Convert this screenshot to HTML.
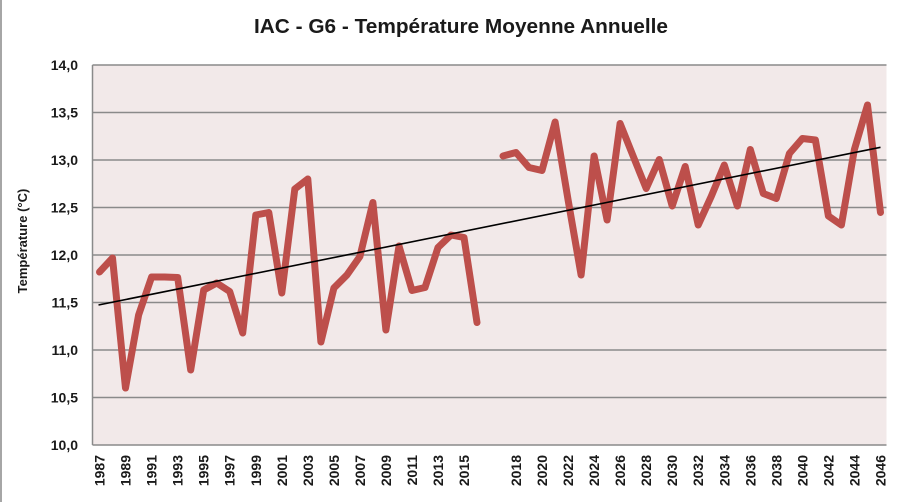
<!DOCTYPE html>
<html>
<head>
<meta charset="utf-8">
<style>
  html, body { margin:0; padding:0; background:#ffffff; }
  svg { display:block; }
  text { font-family: "Liberation Sans", "DejaVu Sans", sans-serif; font-weight: bold; fill:#1a1a1a; }
</style>
</head>
<body>
<svg width="920" height="502" viewBox="0 0 920 502" xmlns="http://www.w3.org/2000/svg">
  <rect x="0" y="0" width="920" height="502" fill="#ffffff"/>
  <line x1="1" y1="0" x2="1" y2="502" stroke="#a6a6a6" stroke-width="2"/>

  <!-- Title -->
  <text x="461" y="33" font-size="20" text-anchor="middle" textLength="414" lengthAdjust="spacingAndGlyphs">IAC - G6 - Température Moyenne Annuelle</text>

  <!-- Plot area -->
  <rect x="92.5" y="65" width="794" height="380" fill="#f2e9e9"/>
  <g stroke="#8a8a8a" stroke-width="1.5">
    <line x1="92.5" y1="65" x2="886.5" y2="65"/>
    <line x1="92.5" y1="112.5" x2="886.5" y2="112.5"/>
    <line x1="92.5" y1="160" x2="886.5" y2="160"/>
    <line x1="92.5" y1="207.5" x2="886.5" y2="207.5"/>
    <line x1="92.5" y1="255" x2="886.5" y2="255"/>
    <line x1="92.5" y1="302.5" x2="886.5" y2="302.5"/>
    <line x1="92.5" y1="350" x2="886.5" y2="350"/>
    <line x1="92.5" y1="397.5" x2="886.5" y2="397.5"/>
    <line x1="92.5" y1="445" x2="886.5" y2="445"/>
    <line x1="92.5" y1="65" x2="92.5" y2="445"/>
  </g>

  <!-- Y tick labels -->
  <g font-size="14" text-anchor="end">
    <text x="78" y="70">14,0</text>
    <text x="78" y="117.5">13,5</text>
    <text x="78" y="165">13,0</text>
    <text x="78" y="212.5">12,5</text>
    <text x="78" y="260">12,0</text>
    <text x="78" y="307.5">11,5</text>
    <text x="78" y="355">11,0</text>
    <text x="78" y="402.5">10,5</text>
    <text x="78" y="450">10,0</text>
  </g>

  <!-- Y axis title -->
  <text font-size="13" text-anchor="middle" transform="translate(27,241) rotate(-90)">Température (°C)</text>

  <!-- X tick labels -->
  <g font-size="14" text-anchor="end">
    <text transform="translate(104.5,455) rotate(-90)">1987</text>
    <text transform="translate(130.5,455) rotate(-90)">1989</text>
    <text transform="translate(156.6,455) rotate(-90)">1991</text>
    <text transform="translate(182.7,455) rotate(-90)">1993</text>
    <text transform="translate(208.7,455) rotate(-90)">1995</text>
    <text transform="translate(234.7,455) rotate(-90)">1997</text>
    <text transform="translate(260.8,455) rotate(-90)">1999</text>
    <text transform="translate(286.8,455) rotate(-90)">2001</text>
    <text transform="translate(312.8,455) rotate(-90)">2003</text>
    <text transform="translate(338.9,455) rotate(-90)">2005</text>
    <text transform="translate(364.9,455) rotate(-90)">2007</text>
    <text transform="translate(390.9,455) rotate(-90)">2009</text>
    <text transform="translate(417,455) rotate(-90)">2011</text>
    <text transform="translate(443,455) rotate(-90)">2013</text>
    <text transform="translate(469,455) rotate(-90)">2015</text>
    <text transform="translate(521,455) rotate(-90)">2018</text>
    <text transform="translate(547,455) rotate(-90)">2020</text>
    <text transform="translate(573.1,455) rotate(-90)">2022</text>
    <text transform="translate(599.1,455) rotate(-90)">2024</text>
    <text transform="translate(625.1,455) rotate(-90)">2026</text>
    <text transform="translate(651.2,455) rotate(-90)">2028</text>
    <text transform="translate(677.2,455) rotate(-90)">2030</text>
    <text transform="translate(703.2,455) rotate(-90)">2032</text>
    <text transform="translate(729.3,455) rotate(-90)">2034</text>
    <text transform="translate(755.3,455) rotate(-90)">2036</text>
    <text transform="translate(781.3,455) rotate(-90)">2038</text>
    <text transform="translate(807.4,455) rotate(-90)">2040</text>
    <text transform="translate(833.4,455) rotate(-90)">2042</text>
    <text transform="translate(859.4,455) rotate(-90)">2044</text>
    <text transform="translate(885.5,455) rotate(-90)">2046</text>
  </g>

  <!-- Data series -->
  <g fill="none" stroke="#bd4f4b" stroke-width="7" stroke-linejoin="round" stroke-linecap="round">
    <polyline points="99.5,272 112.5,258 125.5,388 138.6,315 151.6,277 164.6,277 177.7,277.5 190.7,370 203.7,290 216.7,283 229.7,291.5 242.7,333 255.8,215 268.8,212.5 281.8,293 294.8,189 307.8,179 320.9,342 333.9,288 346.9,275 359.9,256.5 372.9,202.5 385.9,330 399,246 412,290.5 425,287.5 438,247.5 451,235 464,237.5 477,322.5"/>
    <polyline points="503,156 516,152.5 529,167.5 542,170.5 555.1,122 568.1,200 581.1,275 594.1,156 607.1,220 620.1,123.5 633.1,156 646.2,188.5 659.2,159.5 672.2,206 685.2,166.5 698.2,225 711.2,196.5 724.3,165 737.3,206 750.3,149.5 763.3,193.5 776.3,198.5 789.4,153.5 802.4,138.5 815.4,140 828.4,216 841.4,225 854.4,149.5 867.5,105 880.5,212.5"/>
  </g>

  <!-- Trend line -->
  <line x1="98.5" y1="305" x2="880.5" y2="147.3" stroke="#000000" stroke-width="1.6"/>
</svg>
</body>
</html>
